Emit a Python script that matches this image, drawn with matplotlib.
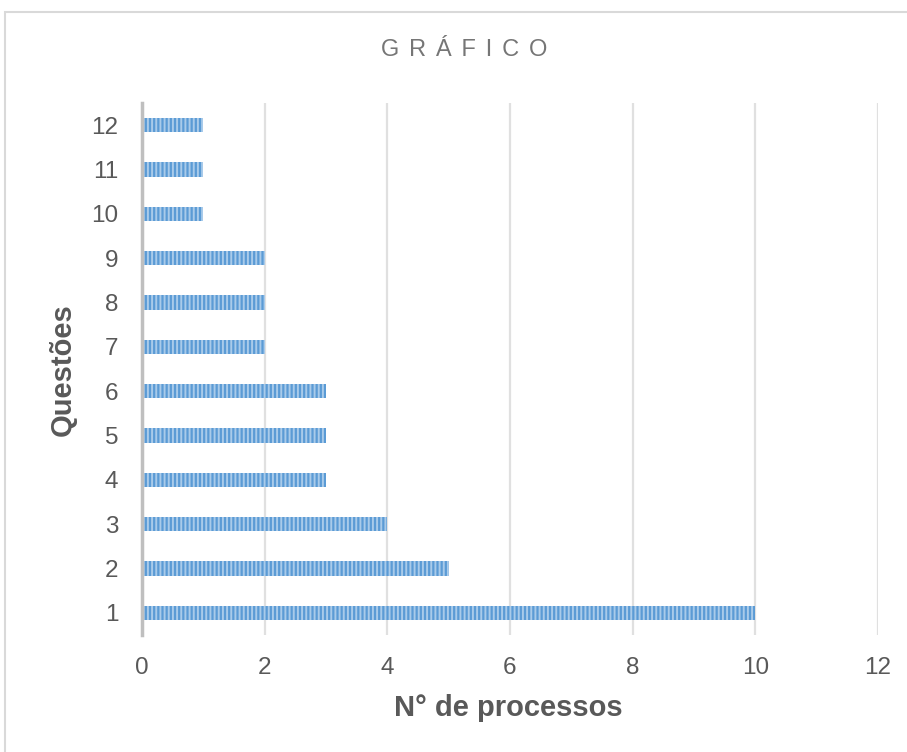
import matplotlib
matplotlib.use("Agg")
import matplotlib.pyplot as plt
from matplotlib.patches import Rectangle

categories = [1, 2, 3, 4, 5, 6, 7, 8, 9, 10, 11, 12]
values = [10, 5, 4, 3, 3, 3, 2, 2, 2, 1, 1, 1]
xticks = [0, 2, 4, 6, 8, 10, 12]

plt.rcParams['font.family'] = ['Liberation Sans', 'DejaVu Sans']
plt.rcParams['hatch.linewidth'] = 1.4

W, H = 907, 752
fig = plt.figure(figsize=(W / 100, H / 100), dpi=100)
fig.patch.set_facecolor('white')

# outer frame
fig.add_artist(Rectangle((5 / W, -0.01), 1.0, 1 - 12 / H + 0.01, transform=fig.transFigure,
                         fill=False, edgecolor='#D9D9D9', linewidth=1.5))

ax = fig.add_axes([142 / W, 1 - 635 / H, (878 - 142) / W, (635 - 103) / H])
ax.barh(categories, values, height=0.32, color='#5B9BD5', edgecolor='#A9CBEA',
        hatch='||||', linewidth=0)
ax.set_xlim(0, 12)
ax.set_ylim(0.5, 12.5)
ax.set_xticks(xticks)
ax.set_yticks(categories)
ax.tick_params(axis='both', length=0, labelsize=17.5, labelcolor='#595959')
ax.tick_params(axis='x', pad=16)
ax.tick_params(axis='y', pad=17)
ax.grid(axis='x', color='#E0E0E0', linewidth=1.6)
ax.set_axisbelow(True)
for s in ['top', 'right', 'bottom']:
    ax.spines[s].set_visible(False)
ax.spines['left'].set_color('#BFBFBF')
ax.spines['left'].set_linewidth(2.5)

ax.set_xlabel('N° de processos', fontsize=21, fontweight='bold', color='#595959', va='center')
ax.xaxis.set_label_coords((508 - 142) / 736, (635 - 708) / 532)
ax.set_ylabel('Questões', fontsize=21, fontweight='bold', color='#595959', va='center')
ax.yaxis.set_label_coords((63 - 142) / 736, (635 - 370) / 532)

fig.text(464 / W, 1 - 50 / H, '\u2004\u200a'.join('GRÁFICO'), ha='center', va='center',
         fontsize=17, color='#767676', family=['Liberation Sans', 'DejaVu Sans'])

fig.savefig('out.png', dpi=100)
